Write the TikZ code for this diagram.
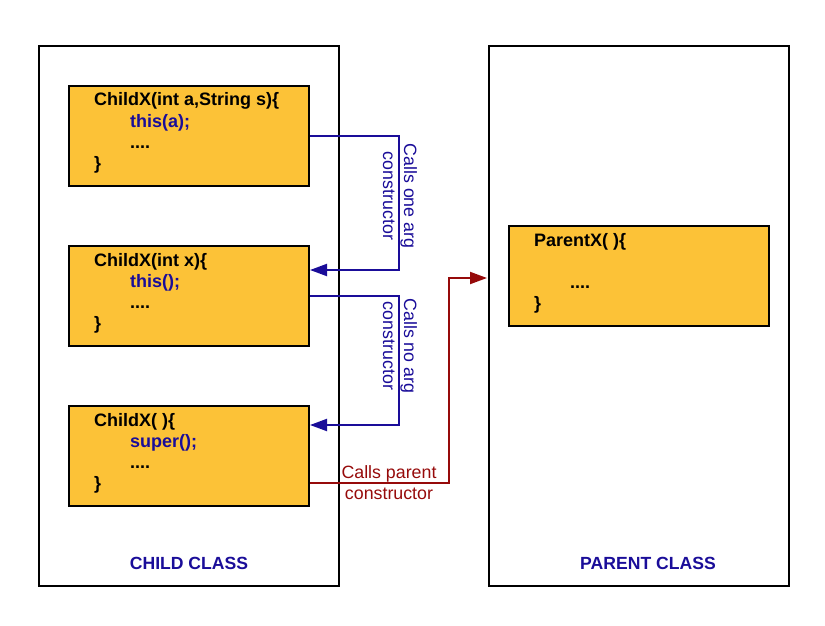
\documentclass[tikz,border=0pt]{standalone}
\usepackage{fontspec}
\setmainfont{Liberation Sans}
\usetikzlibrary{arrows.meta,calc}
\definecolor{boxfill}{RGB}{252,194,55}
\definecolor{myblue}{RGB}{26,13,153}
\definecolor{myred}{RGB}{150,10,10}
\begin{document}
\begin{tikzpicture}[x=1pt,y=-1pt,
  cls/.style={draw=black,line width=2pt,minimum width=300pt,minimum height=540pt,inner sep=0pt},
  codebox/.style={draw=black,fill=boxfill,line width=2pt,minimum width=240pt,minimum height=100pt,inner sep=0pt},
  code/.style={font=\fontsize{18}{21}\selectfont\bfseries,inner sep=0pt,anchor=base west},
  bcode/.style={code,text=myblue},
  lbl/.style={font=\fontsize{17.8}{21}\selectfont,align=center,inner sep=0pt},
  classcap/.style={font=\fontsize{17.6}{20}\selectfont\bfseries,text=myblue,inner sep=0pt},
  bl/.style={draw=myblue,line width=2pt,-{Triangle[length=17pt,width=12pt]}},
  rl/.style={draw=myred,line width=2pt,-{Triangle[length=17pt,width=12pt]}}]
\useasboundingbox (0,0) rectangle (825,626);
\node[cls] (child) at (189,316) {};
\node[cls] (pc) at (639,316) {};
\node[codebox] (b1) at (189,136) {};
\node[codebox] (b2) at (189,296) {};
\node[codebox] (b3) at (189,456) {};
\node[codebox,minimum width=260pt] (p1) at (639,276) {};
% box 1
\node[code] (t1a) at (94,106) {ChildX(int a,String s)\{};
\node[bcode] (t1b) at (130,127) {this(a);};
\node[code] (t1c) at (130,148) {....};
\node[code] (t1d) at (94,169) {\}};
% box 2
\node[code] (t2a) at (94,266) {ChildX(int x)\{};
\node[bcode] (t2b) at (130,287) {this();};
\node[code] (t2c) at (130,308) {....};
\node[code] (t2d) at (94,329) {\}};
% box 3
\node[code] (t3a) at (94,426) {ChildX( )\{};
\node[bcode] (t3b) at (130,447) {super();};
\node[code] (t3c) at (130,468) {....};
\node[code] (t3d) at (94,489) {\}};
% parent box
\node[code] (tpa) at (534,246) {ParentX( )\{};
\node[code] (tpc) at (570,288) {....};
\node[code] (tpd) at (534,309) {\}};
% connectors
\draw[bl] (b1.east) -| ($(b2.east)+(89,-26)$) -- ($(b2.east)+(0,-26)$);
\draw[bl] (b2.east) -| ($(b3.east)+(89,-31)$) -- ($(b3.east)+(0,-31)$);
\draw[rl] ($(b3.east)+(0,27)$) -| ($(pc.west)+(-39,-38)$) -- ($(pc.west)+(-1,-38)$);
% labels
\node[lbl,text=myblue,rotate=-90] (l1) at (400,196) {Calls one arg\\constructor};
\node[lbl,text=myblue,rotate=-90] (l2) at (400,346) {Calls no arg\\constructor};
\node[lbl,text=myred] (l3) at (389,483) {Calls parent\\constructor};
\node[classcap] (c1) at (189,563) {CHILD CLASS};
\node[classcap] (c2) at (648,563) {PARENT CLASS};
\end{tikzpicture}
\end{document}
